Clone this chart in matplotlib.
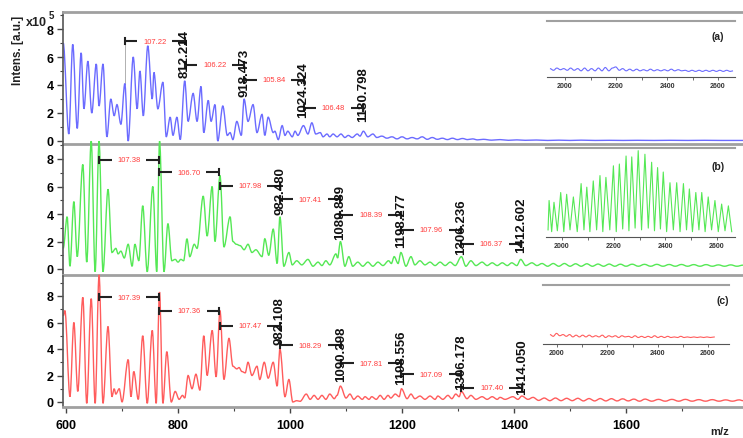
import matplotlib.pyplot as plt
from matplotlib.path import Path
from matplotlib.patches import PathPatch

plt.rcParams['font.family'] = ['Liberation Sans', 'DejaVu Sans']
plt.rcParams['font.weight'] = 'bold'

# ---- spectrum (a): peak / valley vertices (m/z, intensity x1e5)
spec_a = [(595, 7.0), (605, 0.5), (612, 6.9), (620, 0.9), (627, 6.3), (632, 2.3), (639, 5.7), (646, 2.0),
          (654, 5.5), (659, 2.5), (666, 5.5), (673, 0.3), (680, 3.0), (686, 1.8), (691, 2.6), (698, 1.2),
          (705, 4.1), (711, 0.0), (720, 6.0), (727, 2.3), (732, 5.0), (738, 1.8), (746, 6.8), (754, 3.0),
          (757, 4.9), (764, 2.3), (773, 4.2), (779, 0.3), (786, 1.7), (791, 0.4), (798, 1.7), (804, 0.1),
          (812, 4.3), (818, 1.4), (827, 3.4), (834, 1.4), (841, 3.9), (846, 0.6), (854, 2.9), (859, 1.4),
          (866, 2.6), (871, 0.0), (880, 2.5), (888, 0.4), (893, 0.6), (898, 0.1), (905, 1.4), (913, 0.4),
          (918, 3.0), (925, 1.4), (934, 2.6), (941, 0.6), (950, 1.9), (955, 0.4), (961, 1.7), (970, 0.6),
          (973, 0.7), (979, 0.1), (986, 1.1), (991, 0.4), (996, 0.7), (1004, 0.3), (1009, 0.7), (1014, 0.4),
          (1024, 1.1), (1032, 0.5), (1039, 1.3), (1046, 0.5), (1054, 0.6), (1059, 0.3), (1066, 0.5), (1071, 0.3),
          (1077, 0.5), (1084, 0.3), (1091, 0.5), (1098, 0.25), (1104, 0.4), (1111, 0.25), (1120, 0.5), (1125, 0.35),
          (1131, 0.7), (1139, 0.3), (1148, 0.5), (1155, 0.25), (1164, 0.35), (1173, 0.2), (1182, 0.3), (1191, 0.15),
          (1200, 0.3), (1209, 0.15), (1218, 0.25), (1227, 0.15), (1236, 0.3), (1245, 0.12), (1254, 0.25), (1263, 0.12),
          (1272, 0.2), (1281, 0.1), (1290, 0.2), (1299, 0.1), (1308, 0.18), (1317, 0.1), (1326, 0.15), (1335, 0.08),
          (1345, 0.12), (1360, 0.06), (1375, 0.1), (1390, 0.05), (1405, 0.08), (1420, 0.05), (1440, 0.07), (1460, 0.04),
          (1480, 0.06), (1500, 0.04), (1520, 0.06), (1545, 0.04), (1570, 0.05), (1595, 0.04), (1620, 0.05), (1650, 0.04),
          (1680, 0.05), (1710, 0.04), (1740, 0.05), (1770, 0.04), (1809, 0.04)]

spec_b = [(595, 1.5), (602, 3.8), (607, 0.2), (614, 4.9), (620, 0.9), (630, 7.6), (637, 0.5), (645, 9.3),
          (652, -0.2), (659, 9.3), (666, -0.2), (675, 5.8), (682, 1.2), (689, 1.5), (693, 1.1), (698, 1.3),
          (704, 0.8), (711, 1.8), (718, 0.2), (723, 1.8), (730, 0.6), (737, 4.6), (745, -0.2), (755, 6.0),
          (762, -0.2), (767, 9.3), (775, -0.2), (782, 3.3), (789, 0.6), (795, 0.7), (800, 0.5), (805, 0.7),
          (810, 0.6), (816, 2.2), (821, 0.9), (829, 1.8), (834, 1.5), (845, 5.3), (852, 2.4), (861, 6.0),
          (866, 2.0), (875, 6.8), (882, 1.6), (893, 3.8), (898, 2.0), (904, 1.8), (911, 1.7), (918, 1.4),
          (925, 1.8), (932, 1.2), (939, 1.4), (950, 0.9), (955, 2.2), (962, 1.0), (970, 2.9), (977, 0.4),
          (982, 3.8), (989, 0.2), (998, 1.2), (1004, 0.3), (1012, 0.6), (1021, 0.3), (1032, 0.7), (1041, 0.2),
          (1050, 0.5), (1057, 0.25), (1064, 0.6), (1071, 0.3), (1082, 1.1), (1085, 0.8), (1090, 2.0), (1098, 0.2),
          (1105, 0.9), (1112, 0.2), (1121, 0.5), (1130, 0.2), (1139, 0.5), (1148, 0.2), (1157, 0.5), (1166, 0.25),
          (1176, 0.6), (1181, 0.4), (1186, 0.9), (1193, 0.4), (1198, 1.2), (1207, 0.2), (1216, 0.9), (1223, 0.3),
          (1232, 0.6), (1241, 0.3), (1250, 0.5), (1259, 0.25), (1268, 0.5), (1277, 0.25), (1286, 0.5), (1295, 0.25),
          (1306, 0.9), (1314, 0.2), (1323, 0.6), (1332, 0.25), (1343, 0.5), (1352, 0.25), (1361, 0.45), (1370, 0.25),
          (1379, 0.45), (1388, 0.25), (1396, 0.45), (1405, 0.25), (1412, 0.7), (1421, 0.25), (1432, 0.45), (1441, 0.25),
          (1450, 0.4), (1460, 0.2), (1470, 0.4), (1480, 0.2), (1490, 0.4), (1500, 0.2), (1510, 0.38), (1520, 0.2),
          (1530, 0.38), (1540, 0.2), (1550, 0.36), (1560, 0.2), (1570, 0.36), (1580, 0.2), (1590, 0.35), (1600, 0.2),
          (1611, 0.35), (1622, 0.2), (1633, 0.34), (1644, 0.2), (1655, 0.34), (1666, 0.2), (1677, 0.33), (1688, 0.2),
          (1699, 0.33), (1710, 0.2), (1721, 0.32), (1732, 0.2), (1743, 0.32), (1754, 0.2), (1765, 0.3), (1776, 0.2),
          (1787, 0.3), (1798, 0.2), (1809, 0.28)]

spec_c = [(595, 6.5), (598, 6.9), (607, 0.4), (614, 6.0), (621, 0.8), (630, 7.9), (637, -0.1), (645, 7.8),
          (652, -0.1), (659, 9.6), (666, -0.1), (675, 5.7), (682, 0.4), (686, 1.0), (689, 0.6), (695, 1.0),
          (700, 0.0), (711, 3.2), (716, 0.4), (721, 2.3), (729, 0.2), (737, 5.0), (745, -0.1), (754, 5.4),
          (761, -0.1), (767, 8.3), (773, -0.1), (780, 3.8), (788, 0.0), (795, 0.8), (802, 0.2), (808, 0.5),
          (812, 0.3), (818, 2.0), (825, 1.0), (832, 2.1), (839, 0.9), (846, 5.0), (852, 2.0), (861, 5.4),
          (868, 1.9), (875, 6.9), (882, 1.7), (891, 4.8), (898, 2.7), (905, 2.5), (909, 2.6), (914, 2.3),
          (920, 2.2), (925, 3.0), (932, 2.0), (941, 2.7), (946, 1.7), (954, 3.0), (961, 1.8), (970, 3.0),
          (977, 1.2), (982, 4.0), (991, 0.4), (998, 1.7), (1005, 0.0), (1012, 0.1), (1018, 0.05), (1029, 0.6),
          (1036, 0.2), (1043, 0.5), (1050, 0.2), (1057, 0.5), (1064, 0.2), (1071, 0.6), (1079, 0.25), (1084, 0.5),
          (1090, 1.2), (1100, 0.3), (1107, 0.6), (1114, 0.2), (1121, 0.45), (1129, 0.2), (1134, 0.4), (1141, 0.2),
          (1146, 0.4), (1154, 0.2), (1161, 0.5), (1168, 0.2), (1175, 0.5), (1180, 0.3), (1188, 0.6), (1195, 0.4),
          (1199, 1.0), (1209, 0.25), (1216, 0.6), (1223, 0.25), (1232, 0.45), (1241, 0.2), (1250, 0.45), (1259, 0.2),
          (1264, 0.45), (1273, 0.2), (1282, 0.5), (1289, 0.25), (1296, 0.6), (1302, 0.4), (1306, 0.8), (1316, 0.25),
          (1323, 0.5), (1332, 0.2), (1343, 0.4), (1352, 0.2), (1361, 0.4), (1370, 0.2), (1375, 0.35), (1384, 0.2),
          (1398, 0.4), (1407, 0.2), (1414, 0.45), (1425, 0.2), (1434, 0.35), (1444, 0.12), (1454, 0.3), (1464, 0.1),
          (1474, 0.3), (1484, 0.1), (1494, 0.28), (1504, 0.1), (1514, 0.28), (1524, 0.08), (1534, 0.26), (1544, 0.08),
          (1554, 0.26), (1564, 0.08), (1574, 0.25), (1584, 0.08), (1594, 0.24), (1604, 0.08), (1614, 0.22), (1624, 0.06),
          (1634, 0.22), (1646, 0.06), (1658, 0.2), (1670, 0.06), (1682, 0.2), (1694, 0.06), (1706, 0.2), (1718, 0.06),
          (1730, 0.18), (1742, 0.06), (1754, 0.18), (1766, 0.06), (1778, 0.16), (1790, 0.06), (1802, 0.16), (1809, 0.1)]

# ---- insets (2000-2600 region), relative intensity
inset_a = [(1941, 0.15), (1955, 0.12), (1968, 0.16), (1982, 0.13), (1995, 0.15), (2009, 0.12), (2022, 0.16),
           (2036, 0.12), (2050, 0.15), (2063, 0.11), (2077, 0.16), (2090, 0.11), (2104, 0.15), (2118, 0.11),
           (2131, 0.16), (2145, 0.11), (2158, 0.17), (2172, 0.11), (2186, 0.16), (2199, 0.18), (2213, 0.12),
           (2226, 0.15), (2240, 0.11), (2254, 0.14), (2267, 0.11), (2281, 0.14), (2294, 0.11), (2308, 0.13),
           (2322, 0.11), (2335, 0.14), (2349, 0.11), (2362, 0.13), (2376, 0.11), (2390, 0.13), (2403, 0.11),
           (2417, 0.14), (2430, 0.11), (2444, 0.13), (2458, 0.11), (2471, 0.12), (2485, 0.1), (2498, 0.12),
           (2512, 0.1), (2526, 0.12), (2539, 0.1), (2553, 0.12), (2566, 0.1), (2580, 0.12), (2594, 0.1),
           (2607, 0.12), (2621, 0.1), (2634, 0.12), (2648, 0.1), (2659, 0.11)]

inset_b_peaks = [(1950, 0.41), (1969, 0.39), (1995, 0.50), (2018, 0.48), (2044, 0.45), (2074, 0.60), (2096, 0.56),
                 (2121, 0.63), (2147, 0.69), (2170, 0.67), (2199, 0.80), (2222, 0.82), (2248, 0.91), (2270, 0.90),
                 (2295, 0.97), (2321, 0.93), (2347, 0.84), (2370, 0.78), (2392, 0.73), (2418, 0.61), (2444, 0.61),
                 (2470, 0.60), (2493, 0.54), (2518, 0.50), (2541, 0.50), (2566, 0.45), (2592, 0.41), (2618, 0.37),
                 (2644, 0.35)]
inset_b_valleys = [(1946, 0.08), (1960, 0.06), (1982, 0.07), (2007, 0.06), (2031, 0.08), (2059, 0.06), (2085, 0.08),
                   (2108, 0.06), (2134, 0.08), (2158, 0.06), (2185, 0.08), (2210, 0.06), (2235, 0.09), (2259, 0.07),
                   (2283, 0.10), (2308, 0.08), (2334, 0.10), (2358, 0.07), (2381, 0.09), (2405, 0.06), (2431, 0.08),
                   (2457, 0.06), (2482, 0.08), (2505, 0.06), (2530, 0.08), (2554, 0.06), (2579, 0.08), (2605, 0.06),
                   (2631, 0.07), (2657, 0.06)]

inset_c = [(1972, 0.16), (1985, 0.13), (1998, 0.18), (2011, 0.14), (2024, 0.16), (2037, 0.13), (2050, 0.16),
           (2063, 0.12), (2076, 0.15), (2089, 0.12), (2102, 0.15), (2115, 0.12), (2128, 0.15), (2141, 0.12),
           (2154, 0.14), (2167, 0.12), (2180, 0.15), (2193, 0.11), (2206, 0.14), (2219, 0.12), (2232, 0.14),
           (2245, 0.11), (2258, 0.14), (2271, 0.12), (2284, 0.13), (2297, 0.11), (2310, 0.14), (2323, 0.11),
           (2336, 0.13), (2349, 0.11), (2362, 0.13), (2375, 0.11), (2388, 0.14), (2401, 0.11), (2414, 0.13),
           (2427, 0.11), (2440, 0.13), (2453, 0.11), (2466, 0.12), (2479, 0.11), (2492, 0.13), (2505, 0.11),
           (2518, 0.12), (2531, 0.11), (2544, 0.12), (2557, 0.11), (2570, 0.12), (2583, 0.11), (2596, 0.12),
           (2609, 0.11), (2627, 0.12)]

# ---- annotations: (start m/z, end m/z, level, spacing text) and peak labels (m/z, level, text)
brackets_a = [(705, 812.2, 7.14, '107.22'), (812.2, 918.5, 5.43, '106.22'),
              (918.5, 1024.3, 4.36, '105.84'), (1024.3, 1130.8, 2.36, '106.48')]
labels_a = [(812.2, 4.6, '812.214'), (918.5, 3.2, '918.473'), (1024.3, 1.7, '1024.324'), (1130.8, 1.45, '1130.798')]

brackets_b = [(659, 766, 7.93, '107.38'), (766, 873, 7.05, '106.70'), (874.5, 982.5, 6.04, '107.98'),
              (982.5, 1089.9, 5.09, '107.41'), (1089.9, 1198.3, 3.93, '108.39'),
              (1198.3, 1306.2, 2.84, '107.96'), (1306.2, 1412.6, 1.82, '106.37')]
labels_b = [(982.5, 4.0, '982.480'), (1089.9, 2.18, '1089.889'), (1198.3, 1.6, '1198.277'),
            (1306.2, 1.09, '1306.236'), (1412.6, 1.24, '1412.602')]

brackets_c = [(659, 766, 7.92, '107.39'), (766, 874, 6.87, '107.36'), (874.6, 982.1, 5.74, '107.47'),
              (982.1, 1090.4, 4.30, '108.29'), (1090.4, 1198.6, 2.94, '107.81'),
              (1198.6, 1306.2, 2.11, '107.09'), (1306.2, 1414.1, 1.06, '107.40')]
labels_c = [(982.1, 4.38, '982.108'), (1090.4, 1.58, '1090.398'), (1198.6, 1.36, '1198.556'),
            (1306.2, 0.98, '1306.178'), (1414.1, 0.6, '1414.050')]

W, H = 743, 439


def fx(px):
    return px / W


def fy(py):
    return 1 - py / H


def unzip(pairs):
    return [p[0] for p in pairs], [p[1] for p in pairs]


def smooth_line(ax, xs, ys, color, lw):
    # bezier through every vertex with flat tangents -> rounded peaks like the scan trace
    verts = [(xs[0], ys[0])]
    codes = [Path.MOVETO]
    for i in range(len(xs) - 1):
        d = (xs[i + 1] - xs[i]) / 3
        verts += [(xs[i] + d, ys[i]), (xs[i + 1] - d, ys[i + 1]), (xs[i + 1], ys[i + 1])]
        codes += [Path.CURVE4] * 3
    ax.add_patch(PathPatch(Path(verts, codes), fill=False, edgecolor=color, lw=lw, clip_on=False, zorder=2))


def bracket(ax, x1, x2, y, txt, cap):
    xc = (x1 + x2) / 2
    gap = 31
    ax.plot([x1, xc - gap], [y, y], color='#222222', lw=1.5, solid_capstyle='butt')
    ax.plot([xc + gap, x2], [y, y], color='#222222', lw=1.5, solid_capstyle='butt')
    ax.plot([x1, x1], [y - cap, y + cap], color='#222222', lw=1.5)
    ax.plot([x2, x2], [y - cap, y + cap], color='#222222', lw=1.5)
    ax.text(xc, y, txt, color='#ff3b3b', fontsize=5.5, fontweight='normal', ha='center', va='center')


fig = plt.figure(figsize=(W / 100, H / 100), dpi=100)

panels = [
    (spec_a, '#6b6bff', 13, 145, 142, 14.0, brackets_a, labels_a),
    (spec_b, '#55e855', 145, 276, 270, 13.75, brackets_b, labels_b),
    (spec_c, '#ff5c5c', 277, 408, 403, 13.25, brackets_c, labels_c),
]

axes = []
for i, (spec, col, top, bot, zero, ppu, brs, lbs) in enumerate(panels):
    ax = fig.add_axes([fx(63), fy(bot), 1 - fx(63), (bot - top) / H])
    ax.set_facecolor('none')
    xs, ys = unzip(spec)
    smooth_line(ax, xs, ys, col, 1.0)
    ax.set_xlim(594.6, 600 + (W - 66) / 0.56)
    ax.set_ylim(-(bot - zero) / ppu, (zero - top) / ppu)
    ax.set_yticks([0, 2, 4, 6, 8])
    ax.set_yticks([1, 3, 5, 7, 9], minor=True)
    ax.tick_params(axis='y', which='major', direction='out', length=4, width=1, color='#444444',
                   labelsize=9, pad=2.5)
    ax.tick_params(axis='y', which='minor', direction='out', length=2.5, width=0.8, color='#444444')
    ax.spines['right'].set_visible(False)
    ax.spines['left'].set_color('#555555')
    ax.spines['left'].set_linewidth(1.2)
    ax.spines['bottom'].set_color('#a0a0a0')
    ax.spines['bottom'].set_linewidth(2)
    ax.spines['top'].set_color('#a0a0a0')
    ax.spines['top'].set_linewidth(2)
    if i > 0:
        ax.spines['top'].set_visible(False)
    cap = 3 / ppu
    for x1, x2, y, txt in brs:
        bracket(ax, x1, x2, y, txt, cap)
    for x, y, txt in lbs:
        ax.text(x, y, txt, rotation=90, ha='center', va='bottom', fontsize=9.5, color='#111111')
    if i < 2:
        ax.tick_params(axis='x', which='both', length=0, labelbottom=False)
    else:
        ax.set_xticks([600, 800, 1000, 1200, 1400, 1600])
        ax.set_xticks([700, 900, 1100, 1300, 1500, 1700], minor=True)
        ax.tick_params(axis='x', which='major', direction='out', length=4, width=1, color='#444444',
                       labelsize=9, pad=5)
        ax.tick_params(axis='x', which='minor', direction='out', length=3, width=0.8, color='#444444')
    axes.append(ax)

# thin guide line above the 705 peak in (a)
axes[0].plot([705, 705], [4.1, 7.14], color='#b0b0b0', lw=0.7, zorder=1)

# ---- insets
insets = [
    ('(a)', '#6b6bff', 547, 735, 22, 78, 565, 718, [inset_a], (718, 37), True),
    ('(b)', '#55e855', 546, 735, 149, 238, 562, 717, [inset_b_peaks, inset_b_valleys], (718, 167), False),
    ('(c)', '#ff5c5c', 543, 729, 286, 345, 557, 708, [inset_c], (723, 301), True),
]
for tag, col, l, r, t, b, p2000, p2600, parts, tpos, smooth in insets:
    iax = fig.add_axes([fx(l), fy(b), (r - l) / W, (b - t) / H])
    iax.set_facecolor('none')
    pts = sorted([p for part in parts for p in part])
    xs, ys = unzip(pts)
    if smooth:
        smooth_line(iax, xs, ys, col, 0.8)
    else:
        iax.plot(xs, ys, color=col, lw=0.8)
    scale = (p2600 - p2000) / 600
    iax.set_xlim(2000 - (p2000 - l) / scale, 2600 + (r - p2600) / scale)
    iax.set_ylim(0, 1)
    iax.set_yticks([])
    iax.set_xticks([2000, 2200, 2400, 2600])
    iax.set_xticks([2100, 2300, 2500], minor=True)
    iax.tick_params(axis='x', which='both', direction='out', length=2, width=0.6, color='#555555',
                    labelsize=5, labelcolor='#333333', pad=1.5)
    iax.spines['left'].set_visible(False)
    iax.spines['right'].set_visible(False)
    iax.spines['top'].set_color('#a0a0a0')
    iax.spines['top'].set_linewidth(1.5)
    iax.spines['bottom'].set_color('#555555')
    iax.spines['bottom'].set_linewidth(0.8)
    fig.text(fx(tpos[0]), fy(tpos[1]), tag, ha='center', va='center', fontsize=7.5, color='#222222')

# ---- axis texts
fig.text(fx(18), fy(50), 'Intens. [a.u.]', rotation=90, ha='center', va='center', fontsize=8.5, color='#222222')
fig.text(fx(26), fy(23), 'x10', ha='left', va='center', fontsize=9, color='#222222')
fig.text(fx(48.5), fy(16), '5', ha='left', va='center', fontsize=7, color='#222222')
fig.text(fx(720), fy(432), 'm/z', ha='center', va='center', fontsize=8, color='#222222')

fig.savefig('out.png', dpi=100)
